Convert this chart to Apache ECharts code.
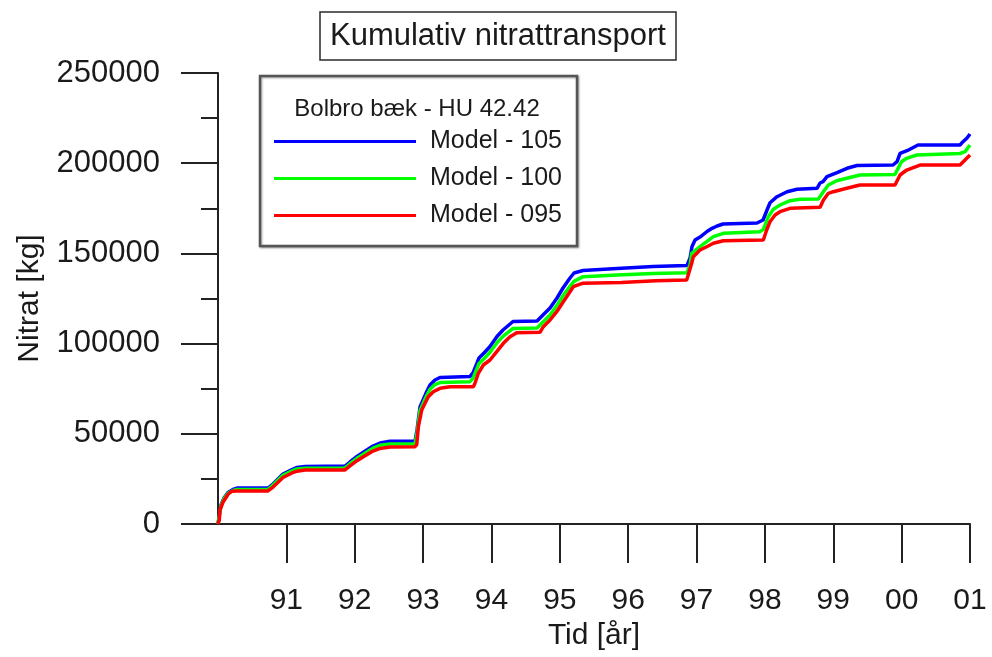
<!DOCTYPE html>
<html>
<head>
<meta charset="utf-8">
<script src="https://cdn.jsdelivr.net/npm/echarts@6/dist/echarts.min.js"></script>
<style>
  html, body { margin: 0; padding: 0; background: #ffffff; }
  #chart { width: 992px; height: 657px; }
</style>
</head>
<body>
<div id="chart"></div>
<script>
// Cumulative nitrate transport, Bolbro bæk - HU 42.42, three model runs.
// Time is given in decimal years, values in kg.

const yearTicks = [1991, 1992, 1993, 1994, 1995, 1996, 1997, 1998, 1999, 2000, 2001];

const t105 = [1990.000, 1990.022, 1990.044, 1990.088, 1990.146, 1990.219, 1990.278, 1990.731, 1990.805, 1990.951,
  1991.083, 1991.156, 1991.273, 1991.858, 1991.931, 1992.033, 1992.121, 1992.267, 1992.370, 1992.516,
  1992.882, 1992.911, 1992.955, 1993.006, 1993.057, 1993.101, 1993.174, 1993.247, 1993.686, 1993.730,
  1993.789, 1993.818, 1993.891, 1993.979, 1994.081, 1994.169, 1994.315, 1994.667, 1994.754, 1994.857,
  1994.959, 1995.047, 1995.149, 1995.208, 1995.339, 1995.837, 1996.363, 1996.861, 1996.905, 1996.934,
  1996.978, 1997.051, 1997.153, 1997.227, 1997.300, 1997.388, 1997.885, 1997.973, 1998.031, 1998.075,
  1998.177, 1998.324, 1998.470, 1998.763, 1998.806, 1998.850, 1998.908, 1999.055, 1999.201, 1999.347,
  1999.874, 1999.933, 1999.977, 2000.079, 2000.240, 2000.854, 2000.898, 2000.957, 2001.000];
const v105 = [0, 5540, 10530, 14410, 17460, 19120, 19900, 19900, 22170, 27720,
  30210, 31320, 31870, 32150, 34370, 37420, 39630, 43240, 44900, 45900,
  45900, 52100, 64850, 69290, 73720, 77050, 79820, 81210, 81760, 83700,
  89240, 92020, 94790, 98390, 103930, 107540, 112250, 112530, 115850, 119730,
  125270, 130820, 136360, 139130, 140520, 141630, 142730, 143300, 147450, 153820,
  157430, 159090, 162140, 163910, 165190, 166300, 166850, 168510, 174060, 178100,
  181430, 184200, 185530, 186080, 189020, 189740, 192510, 194730, 197170, 198720,
  199000, 200830, 205480, 206920, 210090, 210090, 211920, 213970, 216180];

const t100 = [1990.000, 1990.022, 1990.044, 1990.088, 1990.146, 1990.219, 1990.278, 1990.731, 1990.805, 1990.951,
  1991.083, 1991.156, 1991.273, 1991.858, 1991.931, 1992.033, 1992.121, 1992.267, 1992.370, 1992.516,
  1992.882, 1992.911, 1992.955, 1993.006, 1993.057, 1993.101, 1993.174, 1993.247, 1993.686, 1993.730,
  1993.789, 1993.818, 1993.891, 1993.979, 1994.081, 1994.169, 1994.315, 1994.667, 1994.754, 1994.857,
  1994.959, 1995.047, 1995.149, 1995.208, 1995.339, 1995.837, 1996.363, 1996.861, 1996.905, 1996.929,
  1997.051, 1997.149, 1997.246, 1997.392, 1997.929, 1997.978, 1998.050, 1998.123, 1998.221, 1998.368,
  1998.514, 1998.782, 1998.855, 1998.928, 1999.051, 1999.197, 1999.391, 1999.903, 1999.998, 2000.071,
  2000.221, 2000.854, 2000.927, 2001.000];
const v100 = [0, 5300, 10200, 14000, 17000, 18600, 19100, 19100, 21600, 27000,
  29500, 30500, 30900, 31100, 33400, 36400, 38500, 42000, 43600, 44300,
  44400, 50300, 62900, 67300, 71500, 74700, 77300, 78400, 78900, 80700,
  86300, 89000, 91600, 95200, 100500, 104000, 108400, 108700, 112000, 115800,
  121200, 126500, 131800, 134500, 137100, 138000, 138800, 139300, 143570, 150050,
  153710, 156480, 159250, 161140, 162030, 163350, 170350, 174450, 176830, 179210,
  179990, 180200, 184200, 187910, 190300, 191630, 193450, 193800, 200830, 202720,
  204550, 205380, 206370, 210090];

const t095 = [1990.000, 1990.019, 1990.029, 1990.077, 1990.150, 1990.199, 1990.278, 1990.731, 1990.805, 1990.951,
  1991.083, 1991.156, 1991.273, 1991.858, 1991.931, 1992.033, 1992.121, 1992.267, 1992.370, 1992.516,
  1992.882, 1992.907, 1992.931, 1992.980, 1993.028, 1993.076, 1993.149, 1993.247, 1993.394, 1993.735,
  1993.759, 1993.808, 1993.881, 1993.979, 1994.077, 1994.174, 1994.272, 1994.370, 1994.710, 1994.759,
  1994.857, 1994.955, 1995.051, 1995.149, 1995.198, 1995.296, 1995.339, 1995.900, 1996.400, 1996.856,
  1996.929, 1996.953, 1997.051, 1997.149, 1997.246, 1997.392, 1997.977, 1998.026, 1998.075, 1998.148,
  1998.221, 1998.368, 1998.807, 1998.856, 1998.928, 1999.001, 1999.197, 1999.391, 1999.903, 1999.977,
  2000.074, 2000.269, 2000.854, 2000.927, 2001.000];
const v095 = [0, 2200, 7760, 12360, 16630, 18100, 18300, 18300, 20500, 25800,
  28300, 29300, 29900, 30000, 32200, 35100, 37100, 40400, 41900, 42700,
  42850, 44000, 53930, 63190, 66900, 70560, 73340, 75200, 76100, 76100,
  78000, 83540, 88140, 90910, 95510, 100170, 103830, 106050, 106300, 109370,
  113080, 117680, 123220, 128770, 131540, 133000, 133430, 133900, 134800, 135300,
  144510, 148170, 151880, 153710, 155600, 157040, 157420, 162970, 167570, 171290,
  173110, 175000, 175550, 179600, 183310, 184200, 186080, 187910, 187910, 193450,
  196220, 198990, 198990, 201760, 204530];

const seriesNames = ['Model - 105', 'Model - 100', 'Model - 095'];
const seriesColors = ['#0000ff', '#00ff00', '#ff0000'];

function pairs(t, v) {
  return t.map((x, i) => [x, v[i]]);
}

const FONT = "'Liberation Sans', Arial, sans-serif";
const INK = '#1a1a1a';

const chart = echarts.init(document.getElementById('chart'), null, { renderer: 'canvas' });

chart.setOption({
  animation: false,
  backgroundColor: '#ffffff',
  textStyle: { fontFamily: FONT, color: INK },
  title: {
    text: 'Kumulativ nitrattransport',
    left: 320,
    top: 12,
    padding: [9, 10, 8, 10],
    borderColor: '#2a2a2a',
    borderWidth: 1.5,
    textStyle: { fontFamily: FONT, fontSize: 31, fontWeight: 'normal', color: INK }
  },
  graphic: [
    {
      type: 'rect',
      z: 0,
      shape: { x: 260, y: 76, width: 317, height: 170 },
      style: {
        fill: '#ffffff',
        stroke: '#555555',
        lineWidth: 2.5,
        shadowBlur: 2,
        shadowColor: 'rgba(0,0,0,0.35)',
        shadowOffsetX: 1,
        shadowOffsetY: 1
      }
    },
    {
      type: 'text',
      z: 1,
      style: {
        text: 'Bolbro bæk - HU 42.42',
        x: 417,
        y: 109,
        align: 'center',
        verticalAlign: 'middle',
        fontFamily: FONT,
        fontSize: 24,
        fill: INK
      }
    }
  ],
  legend: {
    orient: 'vertical',
    left: 274,
    top: 129,
    padding: 0,
    itemWidth: 142,
    itemHeight: 3,
    itemGap: 12,
    icon: 'rect',
    z: 5,
    selectedMode: false,
    data: seriesNames,
    textStyle: { fontFamily: FONT, fontSize: 25, color: INK, padding: [0, 0, 0, 9] }
  },
  grid: { left: 218, right: 22, top: 73, bottom: 133, containLabel: false },
  xAxis: {
    type: 'value',
    min: 1990,
    max: 2001,
    interval: 1,
    name: 'Tid [år]',
    nameLocation: 'middle',
    nameGap: 96,
    nameTextStyle: { fontFamily: FONT, fontSize: 30, color: INK },
    axisLine: { show: true, lineStyle: { color: '#222', width: 2 } },
    axisTick: { show: true, length: 39, customValues: yearTicks, lineStyle: { color: '#222', width: 2 } },
    axisLabel: {
      margin: 62,
      fontFamily: FONT,
      fontSize: 30,
      color: INK,
      customValues: yearTicks,
      formatter: v => String(Math.round(v) % 100).padStart(2, '0')
    },
    splitLine: { show: false }
  },
  yAxis: {
    type: 'value',
    min: 0,
    max: 250000,
    interval: 50000,
    name: 'Nitrat [kg]',
    nameLocation: 'middle',
    nameGap: 173,
    nameTextStyle: { fontFamily: FONT, fontSize: 30, color: INK },
    axisLine: { show: true, lineStyle: { color: '#222', width: 2 } },
    axisTick: { show: true, length: 37, lineStyle: { color: '#222', width: 2 } },
    minorTick: { show: true, splitNumber: 2, length: 17, lineStyle: { color: '#222', width: 2 } },
    axisLabel: { margin: 58, fontFamily: FONT, fontSize: 31, color: INK, formatter: v => String(v) },
    splitLine: { show: false },
    minorSplitLine: { show: false }
  },
  series: [
    { name: seriesNames[0], type: 'line', data: pairs(t105, v105) },
    { name: seriesNames[1], type: 'line', data: pairs(t100, v100) },
    { name: seriesNames[2], type: 'line', data: pairs(t095, v095) }
  ].map((s, i) => Object.assign(s, {
    showSymbol: false,
    symbol: 'none',
    z: 2 + i,
    color: seriesColors[i],
    lineStyle: { color: seriesColors[i], width: 3.5 }
  }))
});
</script>
</body>
</html>
